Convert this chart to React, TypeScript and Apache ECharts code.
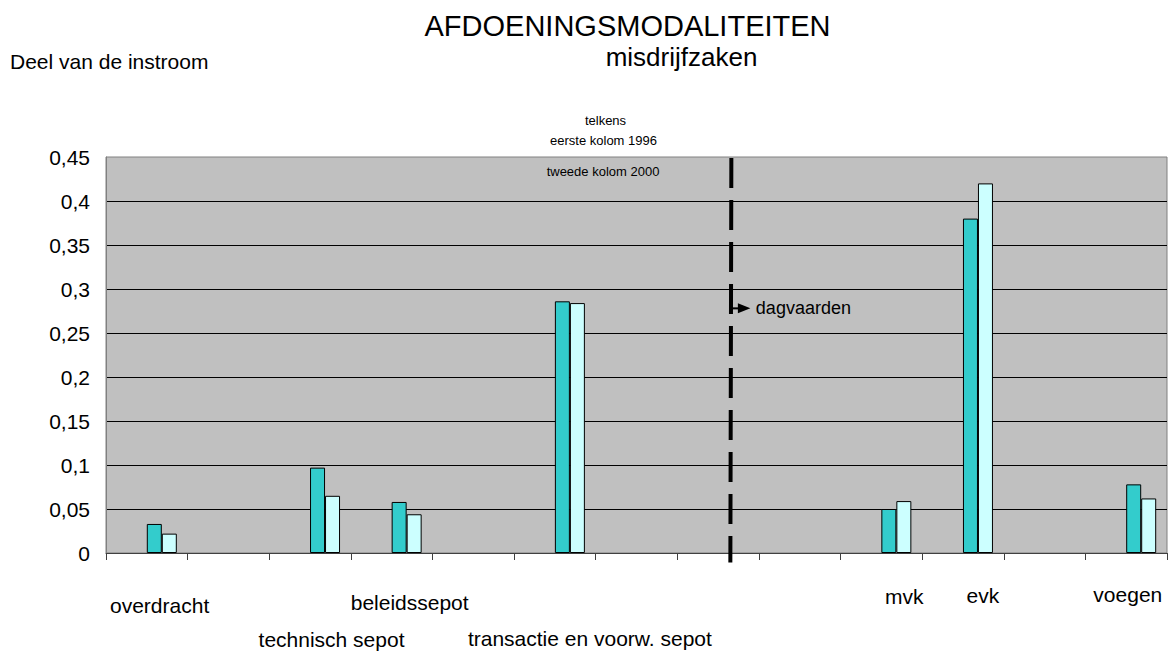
import React, { useEffect, useRef } from "react";
import * as echarts from "echarts";

// ---- data ----
const CATEGORIES = [
  "overdracht",
  "",
  "technisch sepot",
  "beleidssepot",
  "",
  "transactie en voorw. sepot",
  "",
  "",
  "",
  "mvk",
  "evk",
  "",
  "voegen",
];
const VALUES_1996 = [0.033, null, 0.097, 0.058, null, 0.286, null, null, null, 0.05, 0.38, null, 0.078];
const VALUES_2000 = [0.022, null, 0.065, 0.044, null, 0.284, null, null, null, 0.059, 0.42, null, 0.062];
const Y_MIN = 0;
const Y_MAX = 0.45;
const Y_STEP = 0.05;
const DIVIDER_AT = 7.65; // position of the dashed divider, in category units
const NOTE_AT = 0.278; // height of the "dagvaarden" arrow
const NOTE_TEXT = "dagvaarden";
const TITLE = "AFDOENINGSMODALITEITEN";
const SUBTITLE = "misdrijfzaken";
const Y_NAME = "Deel van de instroom";
const NOTES = ["telkens", "eerste kolom 1996", "tweede kolom 2000"];

// ---- label styling (offsets of the hand-placed category labels) ----
const LABEL_DX = [12.8, 0, 21.5, 18, 0, 35, 0, 0, 0, 23, 20, 0, 1.6];
const LABEL_LH = [89, 40, 157, 83, 40, 155, 40, 40, 40, 71, 69, 40, 67];

const FONT = "'Liberation Sans', Arial, Helvetica, sans-serif";

export default function App() {
  const ref = useRef<HTMLDivElement>(null);

  useEffect(() => {
    document.body.style.margin = "0";
    if (!ref.current) return;
    const chart = echarts.init(ref.current, null, { renderer: "svg" });

    const rich: Record<string, any> = {};
    CATEGORIES.forEach((_, i) => {
      rich["c" + i] = {
        fontSize: 21,
        fontFamily: FONT,
        color: "#000",
        lineHeight: LABEL_LH[i],
        padding: [0, 0, 0, LABEL_DX[i] * 2],
      };
    });

    const titleGraphics = [
      {
        id: "title",
        type: "text",
        x: 627.5,
        y: 25.5,
        style: { text: TITLE, fontSize: 29, fontFamily: FONT, fill: "#000", align: "center", verticalAlign: "middle" },
      },
      {
        id: "subtitle",
        type: "text",
        x: 681.5,
        y: 57,
        style: { text: SUBTITLE, fontSize: 26, fontFamily: FONT, fill: "#000", align: "center", verticalAlign: "middle" },
      },
      {
        id: "yname",
        type: "text",
        x: 10,
        y: 61,
        style: { text: Y_NAME, fontSize: 21, fontFamily: FONT, fill: "#000", align: "left", verticalAlign: "middle" },
      },
      {
        id: "note0",
        type: "text",
        x: 605.5,
        y: 120.5,
        style: { text: NOTES[0], fontSize: 13, fontFamily: FONT, fill: "#000", align: "center", verticalAlign: "middle" },
      },
      {
        id: "note1",
        type: "text",
        x: 603.5,
        y: 140,
        style: { text: NOTES[1], fontSize: 13, fontFamily: FONT, fill: "#000", align: "center", verticalAlign: "middle" },
      },
      {
        id: "note2",
        type: "text",
        x: 603,
        y: 171.3,
        style: { text: NOTES[2], fontSize: 13, fontFamily: FONT, fill: "#000", align: "center", verticalAlign: "middle" },
      },
    ];

    const option: any = {
      animation: false,
      backgroundColor: "#fff",
      grid: {
        left: 106,
        top: 157,
        width: 1061,
        height: 396,
        show: true,
        backgroundColor: "#C0C0C0",
        borderColor: "#808080",
        borderWidth: 1,
        containLabel: false,
      },
      xAxis: [
        {
          type: "category",
          data: CATEGORIES,
          boundaryGap: true,
          axisLine: { show: true, lineStyle: { color: "#404040", width: 1 } },
          axisTick: { show: true, length: 7, lineStyle: { color: "#404040" }, interval: 0 },
          axisLabel: {
            interval: 0,
            margin: 8,
            fontSize: 21,
            fontFamily: FONT,
            color: "#000",
            formatter: (v: string, i: number) => (v ? `{c${i}|${v}}` : ""),
            rich,
          },
          splitLine: { show: false },
        },
        { type: "value", min: 0, max: CATEGORIES.length, show: false },
      ],
      yAxis: {
        type: "value",
        min: Y_MIN,
        max: Y_MAX,
        interval: Y_STEP,
        axisLine: { show: true, lineStyle: { color: "#808080" } },
        axisTick: { show: false },
        axisLabel: {
          fontSize: 21,
          fontFamily: FONT,
          color: "#000",
          margin: 16,
          formatter: (v: number) => String(Number(v.toFixed(2))).replace(".", ","),
        },
        splitLine: { show: true, showMinLine: false, showMaxLine: false, lineStyle: { color: "#000", width: 1 } },
      },
      series: [
        { type: "bar", name: "_a", data: [], barWidth: 15, barGap: "0%" },
        { type: "bar", name: "_b", data: [], barWidth: 15, barGap: "0%" },
        {
          type: "bar",
          name: "1996",
          data: VALUES_1996,
          barWidth: 15,
          barGap: "0%",
          itemStyle: { color: "#33CCCC", borderColor: "#000", borderWidth: 1 },
        },
        {
          type: "bar",
          name: "2000",
          data: VALUES_2000,
          barWidth: 15,
          barGap: "0%",
          itemStyle: { color: "#CCFFFF", borderColor: "#000", borderWidth: 1 },
        },
        { type: "scatter", xAxisIndex: 1, data: [], silent: true },
      ],
      graphic: titleGraphics,
    };

    chart.setOption(option);

    const x = chart.convertToPixel({ xAxisIndex: 1 }, DIVIDER_AT) as number;
    const yTop = chart.convertToPixel({ yAxisIndex: 0 }, Y_MAX) as number;
    const yZero = chart.convertToPixel({ yAxisIndex: 0 }, Y_MIN) as number;
    const yNote = chart.convertToPixel({ yAxisIndex: 0 }, NOTE_AT) as number;

    chart.setOption({
      graphic: [
        ...titleGraphics,
        {
          id: "divider",
          type: "line",
          z: 100,
          shape: { x1: x + 1, y1: yTop + 1, x2: x, y2: yZero + 9.5 },
          style: { stroke: "#000", lineWidth: 4, lineDash: [30, 12] },
        },
        {
          id: "arrowStem",
          type: "line",
          z: 100,
          shape: { x1: x, y1: yNote, x2: x + 9, y2: yNote },
          style: { stroke: "#000", lineWidth: 2 },
        },
        {
          id: "arrowHead",
          type: "polygon",
          z: 100,
          shape: { points: [[x + 7.5, yNote - 5], [x + 20, yNote], [x + 7.5, yNote + 5]] },
          style: { fill: "#000" },
        },
        {
          id: "noteText",
          type: "text",
          z: 100,
          x: x + 25.5,
          y: yNote,
          style: { text: NOTE_TEXT, fontSize: 18, fontFamily: FONT, fill: "#000", align: "left", verticalAlign: "middle" },
        },
      ],
    });

    return () => chart.dispose();
  }, []);

  return <div ref={ref} style={{ width: 1169, height: 652 }} />;
}
